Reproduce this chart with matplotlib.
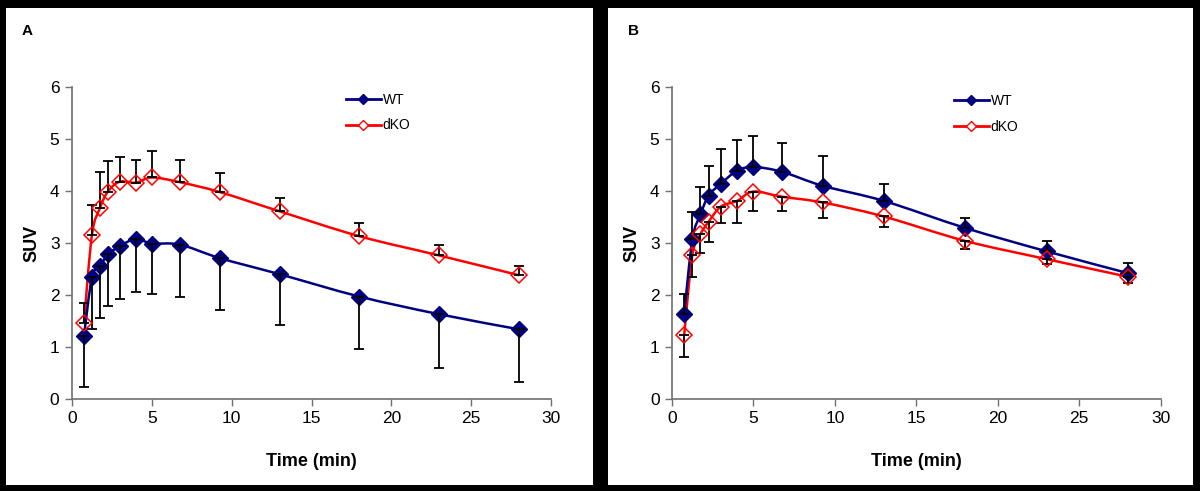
import numpy as np
import matplotlib
matplotlib.use("Agg")
import matplotlib.pyplot as plt
from matplotlib.path import Path
from matplotlib.patches import PathPatch, Rectangle
from matplotlib.lines import Line2D

plt.rcParams['font.family'] = ['Liberation Sans', 'DejaVu Sans']

# ---- data ----
time_min = [0.75, 1.25, 1.75, 2.25, 3, 4, 5, 6.75, 9.25, 13, 18, 23, 28]

# Panel A
a_wt = [1.21, 2.34, 2.55, 2.78, 2.94, 3.08, 2.99, 2.97, 2.71, 2.40, 1.97, 1.63, 1.34]
a_wt_err = [0.97, 1.00, 1.00, 1.00, 1.01, 1.03, 0.97, 1.00, 1.00, 0.97, 1.00, 1.03, 1.01]
a_dko = [1.47, 3.16, 3.67, 3.99, 4.18, 4.16, 4.26, 4.17, 3.98, 3.61, 3.13, 2.76, 2.38]
a_dko_err = [0.37, 0.57, 0.70, 0.58, 0.48, 0.44, 0.50, 0.43, 0.37, 0.25, 0.25, 0.20, 0.17]

# Panel B
b_wt = [1.64, 3.07, 3.55, 3.91, 4.14, 4.39, 4.46, 4.37, 4.10, 3.81, 3.29, 2.84, 2.42]
b_wt_err = [0.37, 0.52, 0.52, 0.57, 0.67, 0.60, 0.59, 0.55, 0.58, 0.33, 0.20, 0.20, 0.20]
b_dko = [1.24, 2.77, 3.17, 3.41, 3.70, 3.81, 3.99, 3.89, 3.78, 3.51, 3.04, 2.69, 2.35]
b_dko_err = [0.44, 0.42, 0.37, 0.40, 0.32, 0.43, 0.37, 0.27, 0.29, 0.21, 0.16, 0.10, 0.12]

series_labels = ["WT", "dKO"]
panel_labels = ["A", "B"]
x_ticks = [0, 5, 10, 15, 20, 25, 30]
y_ticks = [0, 1, 2, 3, 4, 5, 6]

WT_COLOR = "#000080"
DKO_COLOR = "#FF0000"


def smooth_path(x, y):
    p = np.column_stack([x, y]).astype(float)
    n = len(p)
    verts = [p[0]]
    codes = [Path.MOVETO]
    for i in range(n - 1):
        p0 = p[i - 1] if i > 0 else p[i]
        p1 = p[i]
        p2 = p[i + 1]
        p3 = p[i + 2] if i + 2 < n else p[i + 1]
        c1 = p1 + (p2 - p0) / 6.0
        c2 = p2 - (p3 - p1) / 6.0
        verts += [c1, c2, p2]
        codes += [Path.CURVE4] * 3
    return Path(verts, codes)


fig = plt.figure(figsize=(12, 4.91), dpi=100)
fig.patch.set_facecolor("black")

# white panels (drawn behind the axes)
for (x0, w) in ((0.005, 0.4892), (0.5067, 0.4875)):
    fig.patches.append(Rectangle((x0, 0.0122), w, 0.9715, transform=fig.transFigure,
                                 facecolor="white", edgecolor="none", zorder=-10))

axes_pos = [[0.060, 0.1874, 0.3992, 0.6354], [0.560, 0.1874, 0.4071, 0.6354]]
panels = [
    (a_wt, a_wt_err, a_dko, a_dko_err, "down_wt"),
    (b_wt, b_wt_err, b_dko, b_dko_err, "up_wt"),
]
legend_anchor = [(0.572, 0.982), (0.577, 0.977)]
label_pos = [(0.018, 0.937), (0.523, 0.937)]

for k, (wt, wt_err, dko, dko_err, mode) in enumerate(panels):
    ax = fig.add_axes(axes_pos[k])
    ax.set_zorder(1)
    ax.set_facecolor("white")
    t = np.array(time_min)
    wt = np.array(wt); dko = np.array(dko)
    wt_err = np.array(wt_err); dko_err = np.array(dko_err)

    for y, c in ((dko, DKO_COLOR), (wt, WT_COLOR)):
        ax.add_patch(PathPatch(smooth_path(t, y), facecolor="none", edgecolor=c, lw=1.8, zorder=2))

    # one-sided error bars
    if mode == "down_wt":
        wt_yerr = [wt_err, np.zeros_like(wt_err)]
        dko_yerr = [np.zeros_like(dko_err), dko_err]
    else:
        wt_yerr = [np.zeros_like(wt_err), wt_err]
        dko_yerr = [dko_err, np.zeros_like(dko_err)]
    ax.errorbar(t, wt, yerr=wt_yerr, fmt="none", ecolor="black", elinewidth=1.3,
                capsize=3.8, capthick=1.3, zorder=4)
    ax.errorbar(t, dko, yerr=dko_yerr, fmt="none", ecolor="black", elinewidth=1.3,
                capsize=3.8, capthick=1.3, zorder=4)

    ax.plot(t, wt, linestyle="none", marker="D", markersize=8.5, color=WT_COLOR,
            markeredgecolor=WT_COLOR, zorder=3)
    ax.plot(t, dko, linestyle="none", marker="D", markersize=8.5, markerfacecolor="none",
            markeredgecolor=DKO_COLOR, markeredgewidth=1.1, zorder=5)

    ax.set_xlim(0, 30)
    ax.set_ylim(0, 6)
    ax.set_xticks(x_ticks)
    ax.set_yticks(y_ticks)
    ax.tick_params(axis="both", direction="out", length=5, width=1, color="#707070",
                   labelsize=12.5, pad=4)
    for s in ("top", "right"):
        ax.spines[s].set_visible(False)
    for s in ("left", "bottom"):
        ax.spines[s].set_color("#707070")
        ax.spines[s].set_linewidth(1.2)
    ax.set_xlabel("Time (min)", fontsize=13, fontweight="bold", labelpad=19)
    ax.set_ylabel("SUV", fontsize=13, fontweight="bold", labelpad=7)

    handles = [
        Line2D([], [], color=WT_COLOR, lw=2, marker="D", markersize=5,
               markerfacecolor=WT_COLOR, markeredgecolor=WT_COLOR),
        Line2D([], [], color=DKO_COLOR, lw=2, marker="D", markersize=5,
               markerfacecolor="white", markeredgecolor=DKO_COLOR),
    ]
    ax.legend(handles, series_labels, loc="upper left", bbox_to_anchor=legend_anchor[k],
              frameon=False, fontsize=10, handlelength=2.5, handletextpad=0.15,
              labelspacing=0.85, borderpad=0, borderaxespad=0)

    fig.text(label_pos[k][0], label_pos[k][1], panel_labels[k], fontsize=11,
             fontweight="bold", ha="left", va="center")

fig.savefig("out.png", dpi=100, facecolor=fig.get_facecolor())
